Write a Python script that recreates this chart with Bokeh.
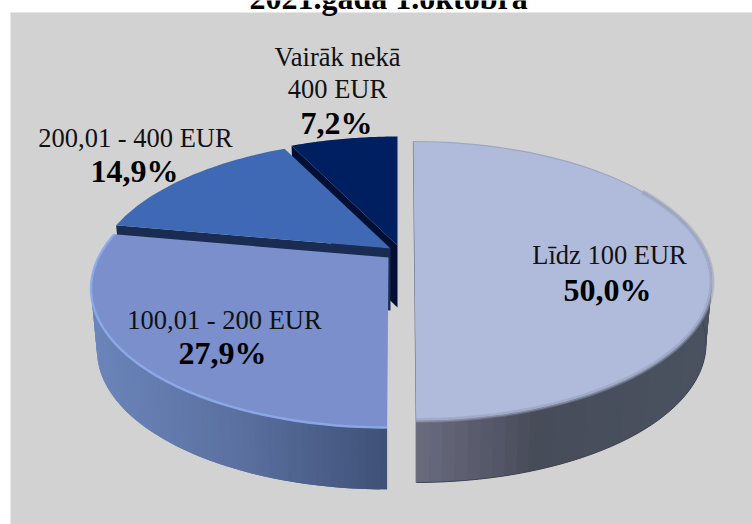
import numpy as np
from bokeh.plotting import figure
from bokeh.models import Range1d
from bokeh.core.properties import value
from bokeh.embed import file_html
from bokeh.resources import INLINE

# --- data
title_text = "2021.gada 1.oktobra"
shares = [50.0, 27.9, 14.9, 7.2]
names = ["Līdz 100 EUR", "100,01 - 200 EUR", "200,01 - 400 EUR", "Vairāk nekā\n400 EUR"]
pct_labels = ["50,0%", "27,9%", "14,9%", "7,2%"]

# --- style / layout
face_colors = ["#b0bbdc", "#7a8fcc", "#3f68b5", "#001f60"]
cut_colors = ["#8a8f9e", "#3f5177", "#1a2c52", "#000f33"]
wall_stops = {
    0: ([416, 480, 540, 710], ["#6b6d80", "#5a5c6e", "#474c59", "#4a5260"]),
    1: ([90, 250, 388], ["#6c86bb", "#5a6f9f", "#3f5177"]),
}
centers = [(414, 250, 0.010), (388, 257, -0.008), (390, 248, 0.0), (397, 245, 0.0)]
A, B, K, DEPTH, BOTTOM_SCALE = 132.8, 290.0, 0.2186, 62.0, 0.98


def project(theta, center, bottom=False):
    cx, cy, shear = center
    u, v = np.sin(theta), -np.cos(theta)
    w = 1 - K * v
    y = A * v / w
    x = B * u / w * (BOTTOM_SCALE if bottom else 1.0) + shear * y
    return cx + x, cy + y + (DEPTH if bottom else 0.0)


def apex(center, bottom=False):
    return center[0], center[1] + (DEPTH if bottom else 0.0)


def hex2rgb(h):
    return np.array([int(h[i:i + 2], 16) for i in (1, 3, 5)], float)


def stop_color(x, stops):
    xs, cols = stops
    rgb = np.array([hex2rgb(c) for c in cols])
    return "#%02x%02x%02x" % tuple(int(round(np.interp(x, xs, rgb[:, i]))) for i in range(3))


edges = np.cumsum([0] + shares) / sum(shares) * 2 * np.pi
spans = [(edges[i], edges[i + 1]) for i in range(len(shares))]

p = figure(width=752, height=524, x_range=Range1d(0, 752), y_range=Range1d(524, 0),
           toolbar_location=None, output_backend="svg", min_border=0,
           outline_line_color=None, background_fill_color="white",
           border_fill_color="white", margin=(0, 0, 0, 0))
p.axis.visible = False
p.grid.visible = False

p.quad(left=[10], right=[752], top=[12], bottom=[524], fill_color="#d2d2d2", line_color=None)

# back slices first: their cut faces
for i in (3, 2):
    c = centers[i]
    t = spans[i][0]
    x0, y0 = project(t, c)
    x1, y1 = project(t, c, True)
    ax, ay = apex(c)
    bx, by = apex(c, True)
    p.patch([x0, ax, bx, x1], [y0, ay, by, y1], fill_color=cut_colors[i], line_color=None)
    th = np.linspace(spans[i][0], spans[i][1], 40)
    fx, fy = project(th, c)
    p.patch(np.r_[ax, fx], np.r_[ay, fy], fill_color=face_colors[i], line_color=None)

# front slices: walls as overlapping gradient strips, then faces
for i in (1, 0):
    c = centers[i]
    s0, s1 = spans[i]
    th = np.linspace(s0, s1, 90)
    xs, ys, cols = [], [], []
    order = range(len(th) - 1)
    for n in order:
        a, b = th[n], th[min(n + 2, len(th) - 1)]
        if i == 0 and b < np.pi * 0.35:
            continue
        xa, ya = project(a, c)
        xb, yb = project(b, c)
        xc, yc = project(b, c, True)
        xd, yd = project(a, c, True)
        xs.append([xa, xb, xc, xd])
        ys.append([ya, yb, yc, yd])
        cols.append(stop_color(project(th[n], c, True)[0], wall_stops[i]))
    p.patches(xs, ys, fill_color=cols, line_color=None)
    ax, ay = apex(c)
    fx, fy = project(th, c)
    bxs, bys = project(th, c, True)
    if i == 0:
        front = th > np.pi * 0.3
        p.line(bxs[front], bys[front], line_color="#3e4350", line_width=1)
        # dark hairline on the cut edge
        x0, y0 = project(s1, c)
        x1, y1 = project(s1, c, True)
        p.line([fx[0], ax, x0, x1], [fy[0], ay, y0, y1], line_color="#6c6f7c", line_width=1.2)
    p.patch(np.r_[ax, fx], np.r_[ay, fy], fill_color=face_colors[i], line_color=None)
    if i == 0:
        # soft edge between face and wall
        for lw, col, al in [(5, "#8a93ad", 0.35), (3, "#a0a9c4", 0.5)]:
            p.line(fx[30:], fy[30:], line_color=col, line_width=lw, line_alpha=al)
        p.line(fx[:40], fy[:40], line_color="#9aa3bd", line_width=1.2, line_alpha=0.9)
    else:
        p.line(fx, fy, line_color="#8fabea", line_width=2.5, line_alpha=0.9)

# texts
FONT = value("Liberation Serif")
name_pos = [(609, 254), (224, 319), (135, 137), (337, 72)]
pct_pos = [(607, 289), (222, 352), (134, 170), (336, 122)]
for i in range(4):
    for j, line in enumerate(names[i].split("\n")):
        offs = 32 * (j - (names[i].count("\n")) / 2)
        p.text([name_pos[i][0]], [name_pos[i][1] + offs], text=[line], text_font=FONT,
               text_font_size="26.5px", text_align="center", text_baseline="middle",
               text_color="#111111")
    p.text([pct_pos[i][0]], [pct_pos[i][1]], text=[pct_labels[i]], text_font=FONT,
           text_font_size="32px", text_font_style="bold", text_align="center",
           text_baseline="middle", text_color="#000000")
p.text([388], [-3], text=[title_text], text_font=FONT, text_font_size="32px",
       text_font_style="bold", text_align="center", text_baseline="middle",
       text_color="#000000")

open("out.html", "w").write(file_html(p, INLINE))
